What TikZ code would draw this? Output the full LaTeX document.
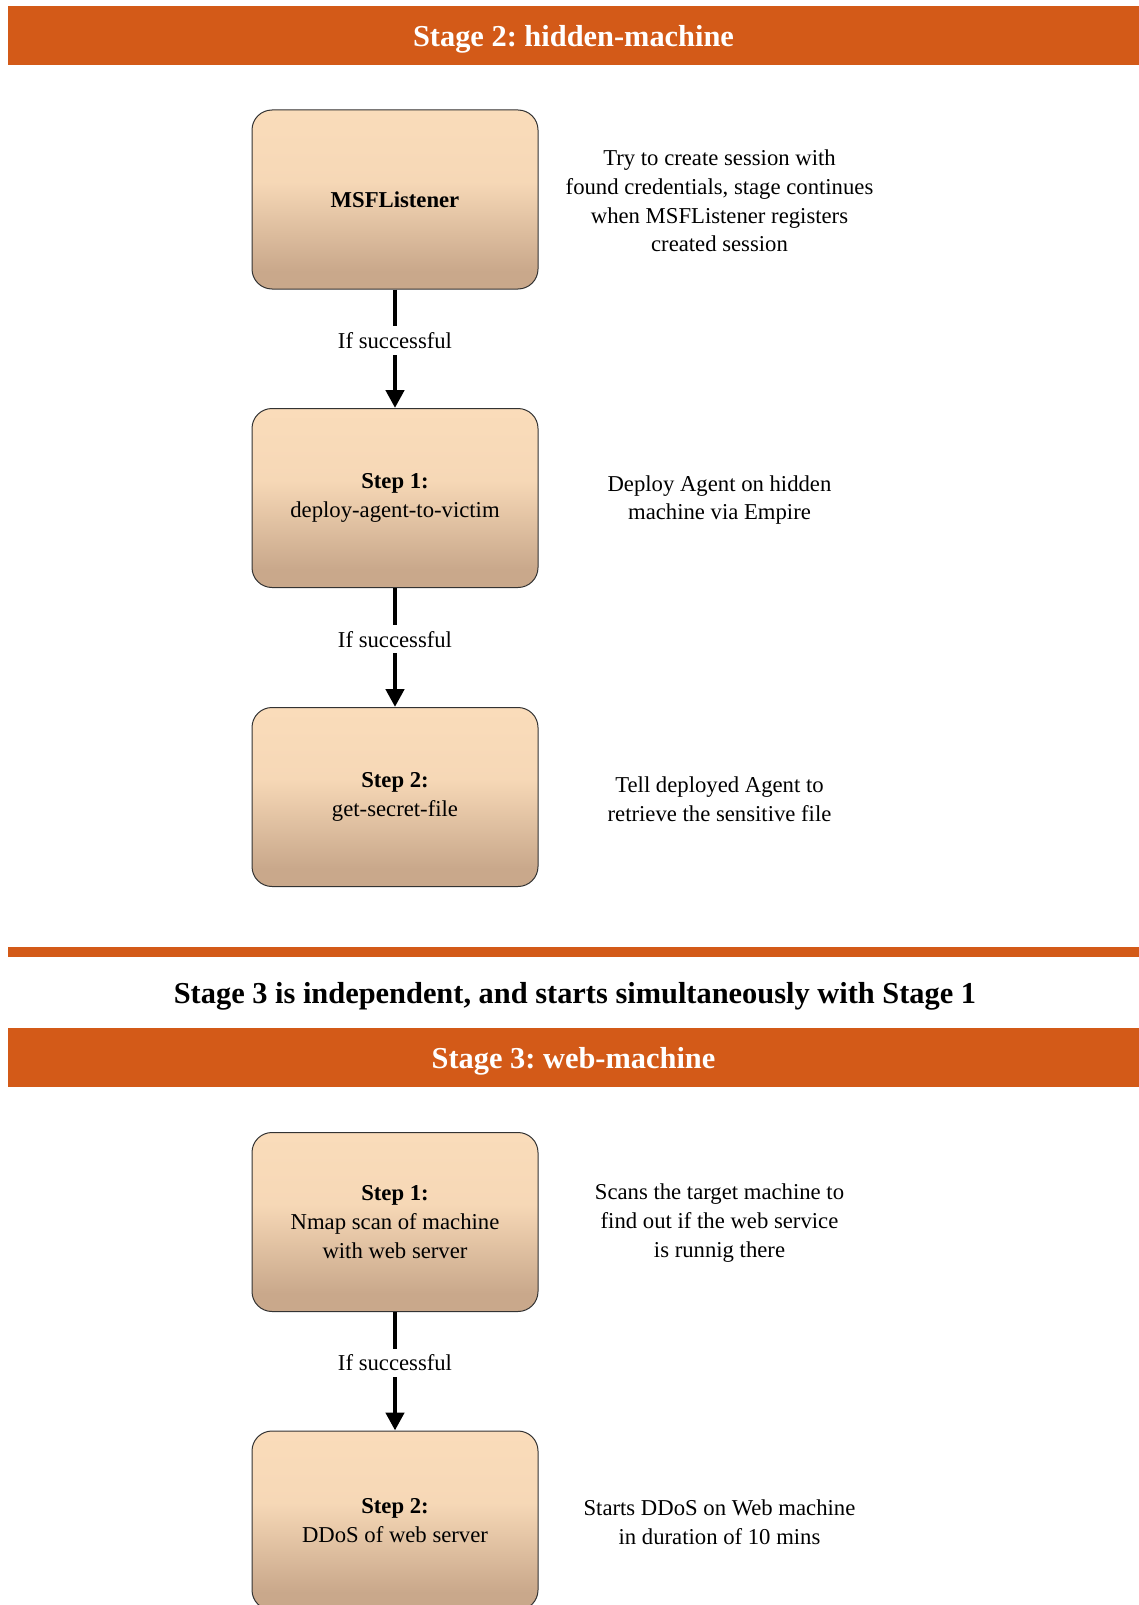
\documentclass[tikz,border=0pt]{standalone}
\usepackage{fontspec}
\setmainfont{Liberation Serif}
\usetikzlibrary{arrows.meta}
\frenchspacing
\definecolor{stageorange}{HTML}{D35A18}
\definecolor{boxtop}{HTML}{FADCBA}
\definecolor{boxbot}{HTML}{C9A88B}
\pgfdeclareverticalshading{stepshade}{100bp}{color(0bp)=(boxbot); color(25bp)=(boxbot); color(30bp)=(boxbot); color(55bp)=(boxtop!92!boxbot); color(75bp)=(boxtop); color(100bp)=(boxtop)}
\newcommand{\stepfont}{\fontsize{22.7}{28.6}\selectfont}
\newcommand{\headfont}{\fontsize{30.4}{36}\selectfont}

\begin{document}
\begin{tikzpicture}[x=1pt, y=-1pt,
    stagebar/.style={rectangle, fill=stageorange, text=white, font=\headfont\bfseries, text depth=0pt, minimum width=1131pt, minimum height=59pt, inner sep=0pt},
    stepbox/.style={rectangle, rounded corners=20pt, draw=black!80, line width=1pt, shading=stepshade, minimum width=286pt, minimum height=179pt, align=center, font=\stepfont},
    note/.style={align=center, font=\stepfont},
    flow/.style={line width=4.7pt, -{Triangle[width=18pt, length=18pt]}},
    iflabel/.style={fill=white, font=\stepfont, inner xsep=2pt, inner ysep=6pt, pos=0.43}]

    \useasboundingbox (0,0) rectangle (1139,1605);
    \clip (0,0) rectangle (1139,1605);

    % Stage 2
    \node[stagebar] (stagetwo) at (573.5,35.5) {Stage 2: hidden-machine};

    \node[stepbox] (listener) at (395,199.5) {\textbf{MSFListener}};
    \node[stepbox] (deploy) at (395,498) {\textbf{Step 1:}\\deploy-agent-to-victim};
    \node[stepbox] (secret) at (395,797) {\textbf{Step 2:}\\get-secret-file};

    \node[note] (listenernote) at (719.5,201) {Try to create session with\\found credentials, stage continues\\when MSFListener registers\\created session};
    \node[note] (deploynote) at (719.5,500) {Deploy Agent on hidden\\machine via Empire};
    \node[note] (secretnote) at (719.5,799) {Tell deployed Agent to\\retrieve the sensitive file};

    \draw[flow] (listener.south) -- node[iflabel] {If successful} (deploy.north);
    \draw[flow] (deploy.south) -- node[iflabel] {If successful} (secret.north);

    % separator
    \fill[stageorange] (8,947) rectangle (1139,957);
    \node[font=\headfont\bfseries, text depth=0pt] (indep) at (575,993) {Stage 3 is independent, and starts simultaneously with Stage 1};

    % Stage 3
    \node[stagebar] (stagethree) at (573.5,1057.5) {Stage 3: web-machine};

    \node[stepbox] (nmap) at (395,1222) {\textbf{Step 1:}\\Nmap scan of machine\\with web server};
    \node[stepbox] (ddos) at (395,1520.5) {\textbf{Step 2:}\\DDoS of web server};

    \node[note] (nmapnote) at (719.5,1223) {Scans the target machine to\\find out if the web service\\is runnig there};
    \node[note] (ddosnote) at (719.5,1522) {Starts DDoS on Web machine\\in duration of 10 mins};

    \draw[flow] (nmap.south) -- node[iflabel] {If successful} (ddos.north);

\end{tikzpicture}
\end{document}
